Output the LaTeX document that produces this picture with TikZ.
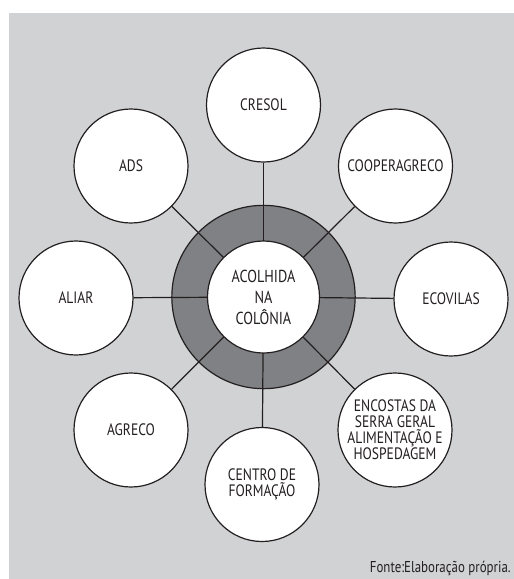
\documentclass[tikz,border=0pt]{standalone}
\usepackage{fontspec}
\setmainfont{PT Sans}[FakeStretch=0.82]
\usetikzlibrary{positioning}
\pgfdeclarelayer{back}
\pgfdeclarelayer{mid}
\pgfsetlayers{back,mid,main}
\definecolor{panel}{RGB}{209,210,212}
\definecolor{ringgray}{RGB}{128,129,132}
\definecolor{ink}{RGB}{35,31,32}
\tikzset{
  px/.style={x=0.75pt,y=-0.75pt},
  sat/.style={circle,draw=ink,line width=0.9pt,fill=white,minimum size=85.5pt,
    inner sep=0pt,align=center,text=ink,font=\fontsize{12.4}{12.1}\selectfont},
  hubcore/.style={circle,draw=ink,line width=0.9pt,fill=white,minimum size=84pt,
    inner sep=0pt,align=center,text=ink,font=\fontsize{13}{15.8}\selectfont},
  hubring/.style={circle,draw=ink,line width=0.9pt,fill=ringgray,minimum size=137.5pt,inner sep=0pt},
  link/.style={draw=ink,line width=0.9pt},
}
\begin{document}
\begin{tikzpicture}[px]
  \useasboundingbox (0,0) rectangle (514,579);
  \begin{pgfonlayer}{back}
    \fill[panel] (9,13) rectangle (514,579);
    \node[hubring] (ring) at (263.5,297) {};
  \end{pgfonlayer}

  \node[hubcore] (hub) at (263.5,297) {ACOLHIDA\\NA\\COLÔNIA};

  \node[sat] (cresol) at (263.5,105) {CRESOL};
  \node[sat] (coop)   at (395.5,166) {COOPERAGRECO};
  \node[sat] (eco)    at (451,299)   {ECOVILAS};
  \node[sat] (enc)    at (395,430)   {ENCOSTAS DA\\SERRA GERAL\\ALIMENTAÇÃO E\\HOSPEDAGEM};
  \node[sat] (centro) at (262,484.5) {CENTRO DE\\FORMAÇÃO};
  \node[sat] (agreco) at (131,430)   {AGRECO};
  \node[sat] (aliar)  at (76,298)    {ALIAR};
  \node[sat] (ads)    at (131,166)   {ADS};

  \begin{pgfonlayer}{mid}
    \foreach \s in {cresol,coop,eco,enc,centro,agreco,aliar,ads}
      \draw[link] (hub.center) -- (\s);
  \end{pgfonlayer}

  \node[anchor=base east,text=ink,font=\fontsize{11.8}{11.8}\selectfont,inner sep=0pt]
    (src) at (511,572) {Fonte:Elaboração própria.};
\end{tikzpicture}
\end{document}
